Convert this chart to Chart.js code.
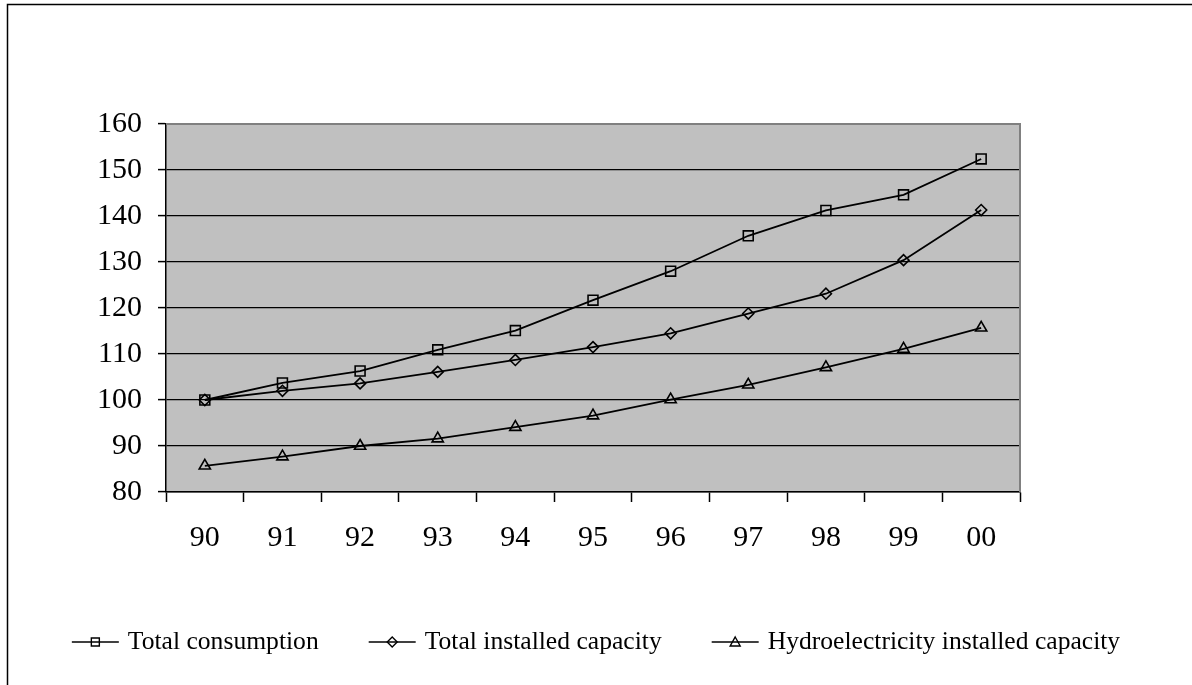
<!DOCTYPE html>
<html>
<head>
<meta charset="utf-8">
<script src="https://cdn.jsdelivr.net/npm/chart.js@4/dist/chart.umd.min.js"></script>
<style>
  html, body { margin: 0; padding: 0; background: #ffffff; }
  #wrap { width: 1192px; height: 685px; position: relative; }
</style>
</head>
<body>
<div id="wrap"><canvas id="c" width="1192" height="685"></canvas></div>
<script>
// Years (two-digit) on the category axis
const years = ['90', '91', '92', '93', '94', '95', '96', '97', '98', '99', '00'];

// Index values, 1990 = 100 for the first two series
const totalConsumption = [100, 103.7, 106.3, 110.9, 115.1, 121.7, 128.0, 135.7, 141.2, 144.6, 152.4];
const totalInstalled   = [100, 102.0, 103.6, 106.1, 108.7, 111.5, 114.5, 118.8, 123.1, 130.4, 141.3];
const hydroInstalled   = [85.7, 87.7, 90.0, 91.6, 94.1, 96.6, 100.1, 103.3, 107.1, 111.1, 115.7];

const seriesNames = ['Total consumption', 'Total installed capacity', 'Hydroelectricity installed capacity'];
const seriesMarkers = ['rect', 'rectRot', 'triangle'];

// Value axis range
const yMin = 80;
const yMax = 160;
const yStep = 10;

const FONT = '"Liberation Serif", "Times New Roman", serif';
const PLOT_BG = '#c0c0c0';
const FRAME_GRAY = '#808080';

// Small marker painter used by the legend
function paintMarker(ctx, style, x, y) {
  ctx.beginPath();
  if (style === 'rect') {
    ctx.rect(x - 4, y - 4, 8, 8);
  } else if (style === 'rectRot') {
    ctx.moveTo(x - 5, y); ctx.lineTo(x, y - 5); ctx.lineTo(x + 5, y); ctx.lineTo(x, y + 5); ctx.closePath();
  } else {
    ctx.moveTo(x, y - 5); ctx.lineTo(x + 5, y + 4); ctx.lineTo(x - 5, y + 4); ctx.closePath();
  }
  ctx.stroke();
}

const plotDecor = {
  id: 'plotDecor',
  beforeDraw(chart) {
    const { ctx, chartArea: a } = chart;
    ctx.save();
    ctx.fillStyle = PLOT_BG;
    ctx.fillRect(a.left, a.top, a.right - a.left, a.bottom - a.top);
    ctx.restore();
  },
  afterDraw(chart) {
    const { ctx, chartArea: a } = chart;
    ctx.save();
    // gray frame on the top and right of the plot area
    ctx.strokeStyle = FRAME_GRAY;
    ctx.lineWidth = 2;
    ctx.beginPath();
    ctx.moveTo(a.left, a.top);
    ctx.lineTo(a.right, a.top);
    ctx.lineTo(a.right, a.bottom);
    ctx.stroke();

    // outer frame of the figure
    ctx.strokeStyle = '#000';
    ctx.lineWidth = 1.5;
    ctx.beginPath();
    ctx.moveTo(7.5, chart.height);
    ctx.lineTo(7.5, 4.5);
    ctx.lineTo(chart.width, 4.5);
    ctx.stroke();

    // legend row along the bottom
    ctx.font = '25.6px ' + FONT;
    ctx.textBaseline = 'middle';
    ctx.fillStyle = '#000';
    const symW = 47, symGap = 9, itemGap = 50, legendY = 642;
    const items = chart.data.datasets.map((ds, i) => ({
      label: ds.label,
      marker: seriesMarkers[i],
      w: symW + symGap + ctx.measureText(ds.label).width
    }));
    const total = items.reduce((s, it) => s + it.w, 0) + itemGap * (items.length - 1);
    let x = (chart.width - total) / 2;
    items.forEach(it => {
      ctx.strokeStyle = '#000';
      ctx.lineWidth = 1.6;
      ctx.beginPath();
      ctx.moveTo(x, legendY);
      ctx.lineTo(x + symW, legendY);
      ctx.stroke();
      ctx.lineWidth = 1.4;
      paintMarker(ctx, it.marker, x + symW / 2, legendY);
      ctx.fillText(it.label, x + symW + symGap, legendY);
      x += it.w + itemGap;
    });
    ctx.restore();
  }
};

const seriesValues = [totalConsumption, totalInstalled, hydroInstalled];
const pointSizes = { rect: 7, rectRot: 5.5, triangle: 6.5 };

new Chart(document.getElementById('c'), {
  type: 'line',
  data: {
    labels: years,
    datasets: seriesValues.map((vals, i) => ({
      label: seriesNames[i],
      data: vals,
      borderColor: '#000',
      borderWidth: 1.8,
      backgroundColor: 'rgba(0,0,0,0)',
      pointStyle: seriesMarkers[i],
      pointRadius: pointSizes[seriesMarkers[i]],
      pointBorderColor: '#000',
      pointBackgroundColor: 'rgba(0,0,0,0)',
      pointBorderWidth: 1.6,
      tension: 0,
      fill: false
    }))
  },
  options: {
    responsive: false,
    devicePixelRatio: 1,
    animation: false,
    layout: { padding: { left: 0, top: 124, right: 172, bottom: 113 } },
    plugins: {
      legend: { display: false },
      tooltip: { enabled: false }
    },
    scales: {
      x: {
        offset: true,
        grid: {
          offset: true,
          drawOnChartArea: false,
          drawTicks: true,
          tickLength: 10,
          tickColor: '#000',
          tickWidth: 1.5
        },
        border: { display: true, color: '#000', width: 1.5 },
        ticks: {
          color: '#000',
          padding: 18,
          maxRotation: 0,
          autoSkip: false,
          font: { family: FONT, size: 30 }
        },
        afterFit(scale) { scale.height = 80; }
      },
      y: {
        min: yMin,
        max: yMax,
        grid: {
          color: (c) => (c.tick && c.tick.value === yMax) ? FRAME_GRAY : '#000',
          lineWidth: 1.2,
          drawTicks: true,
          tickLength: 8,
          tickColor: '#000',
          tickWidth: 1.5
        },
        border: { display: true, color: '#000', width: 1.5 },
        ticks: {
          stepSize: yStep,
          color: '#000',
          padding: 16,
          font: { family: FONT, size: 30 }
        },
        afterFit(scale) { scale.width = 166; }
      }
    }
  },
  plugins: [plotDecor]
});
</script>
</body>
</html>
